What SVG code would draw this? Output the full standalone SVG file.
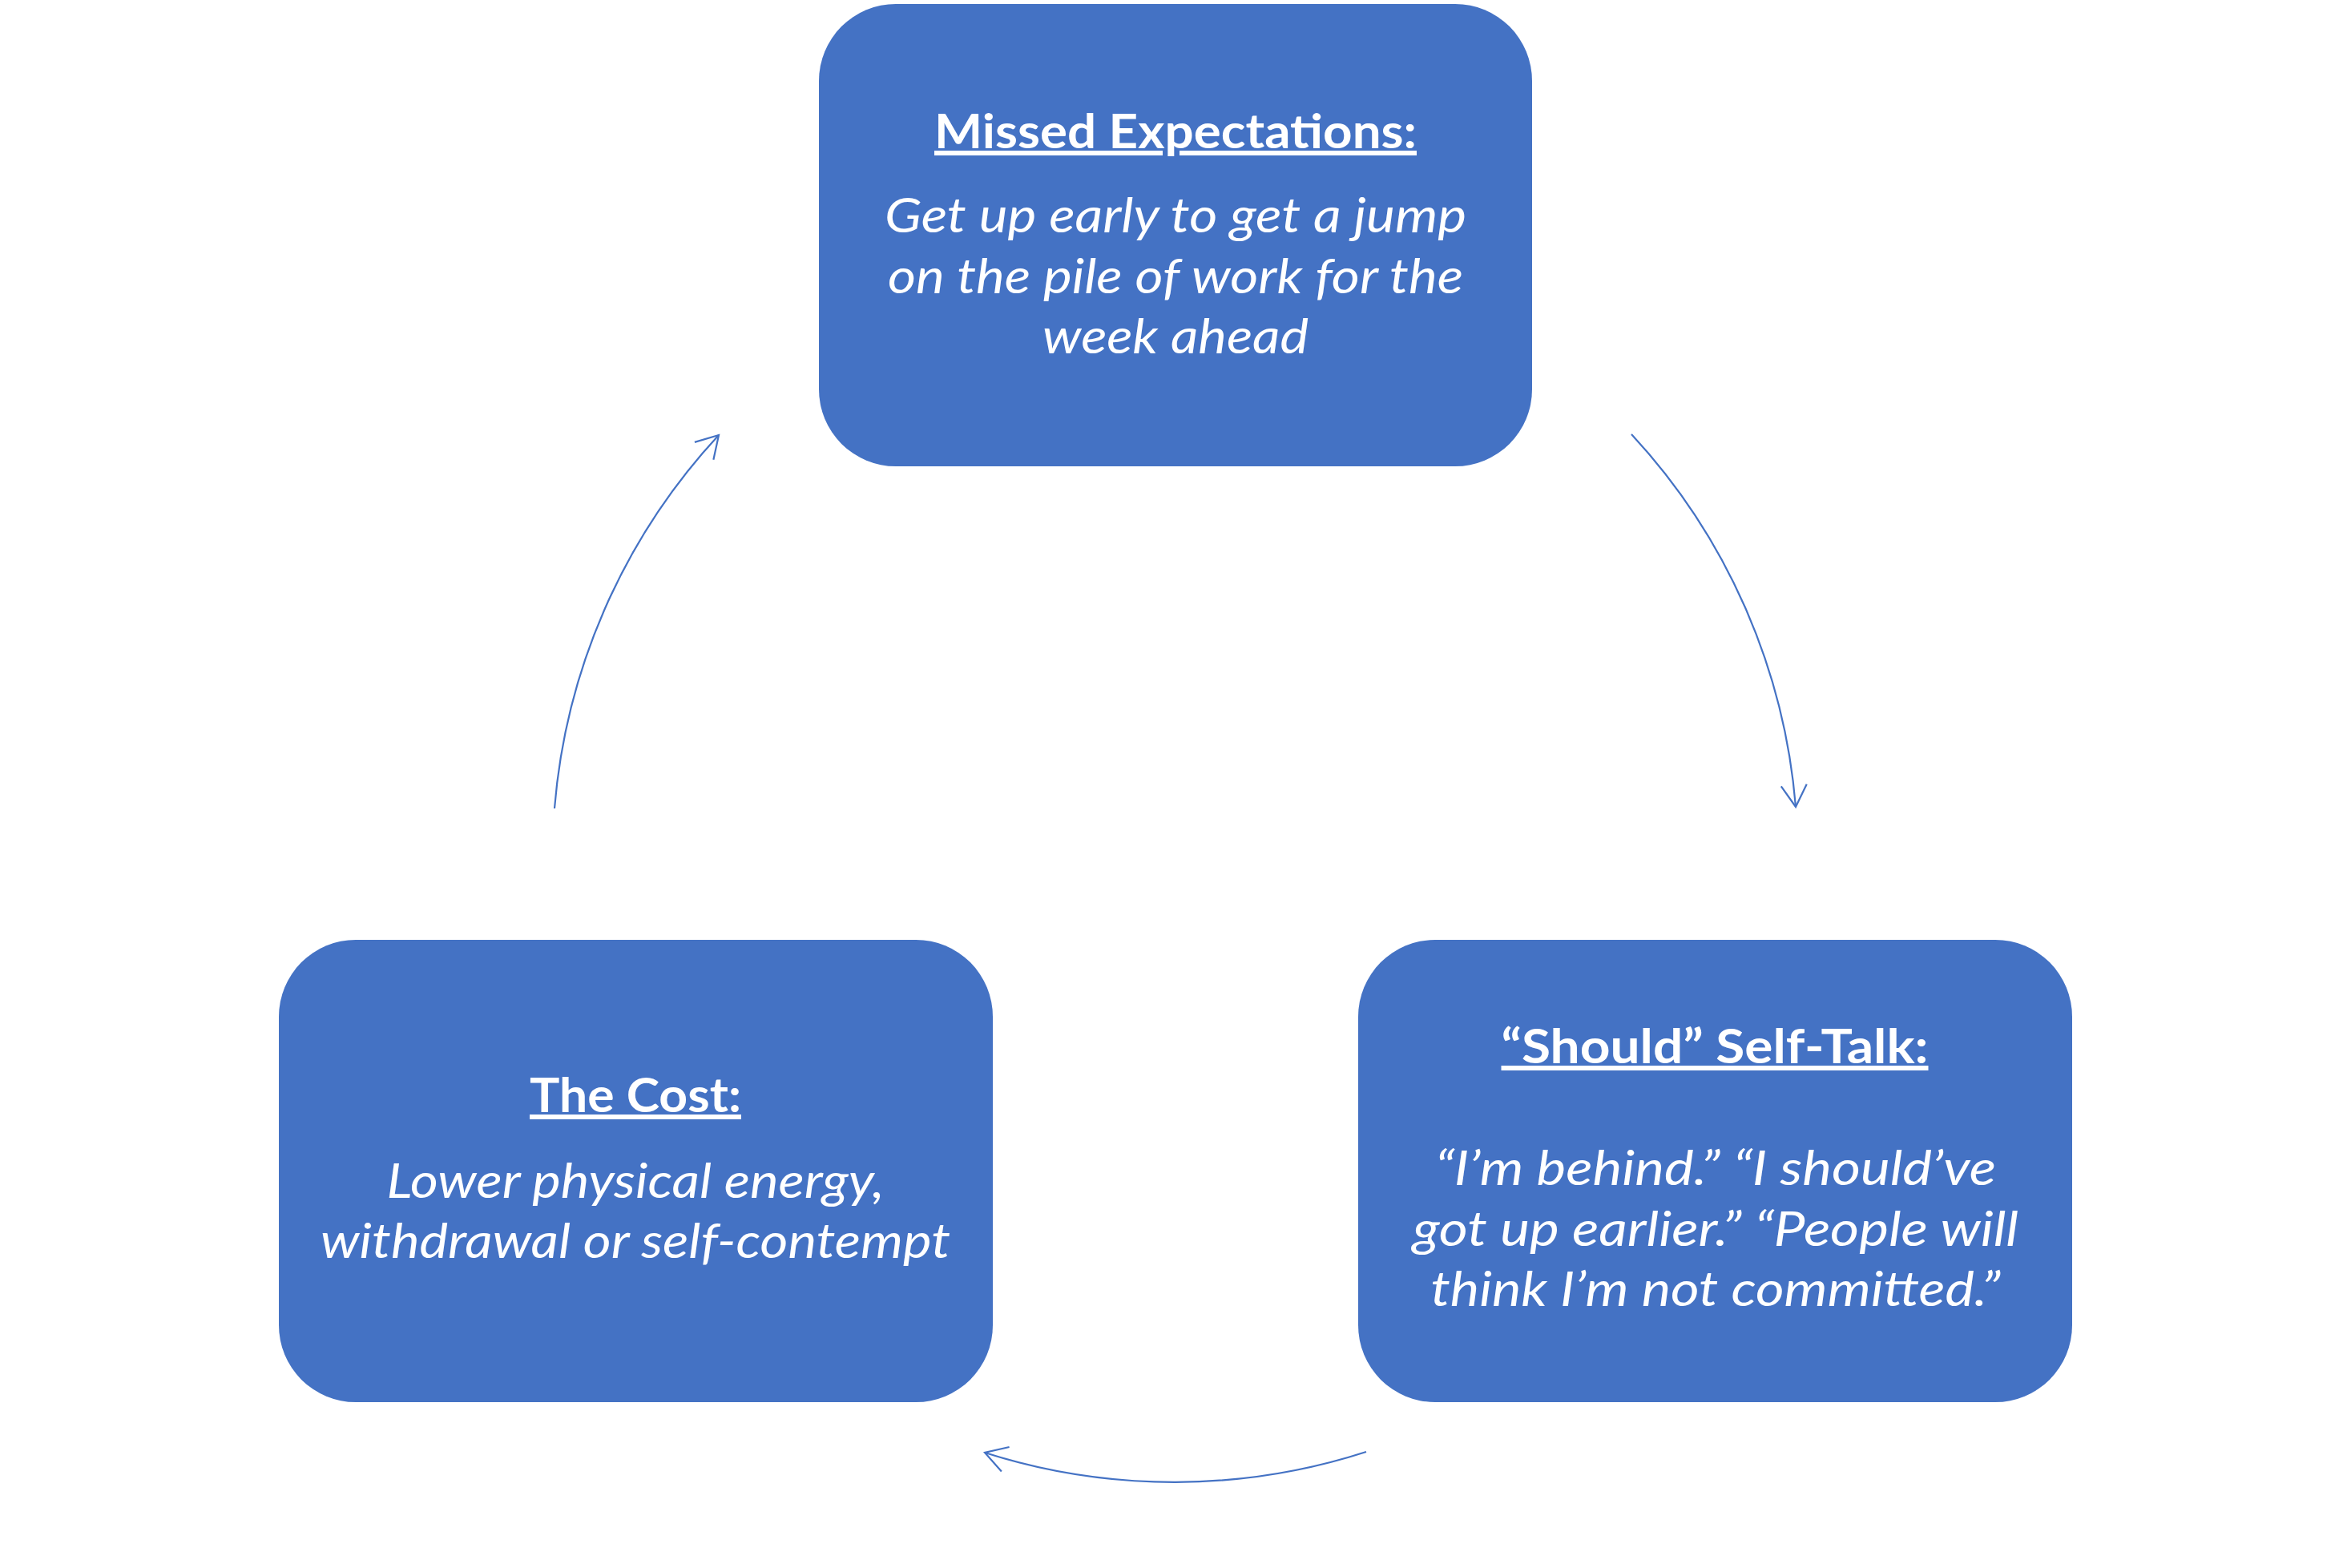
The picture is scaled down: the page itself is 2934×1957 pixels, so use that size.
<svg xmlns="http://www.w3.org/2000/svg" width="2934" height="1957" viewBox="0 0 2934 1957">
<style>
.node{fill:#4472C4;}
.title{font-family:Lato,"Open Sans","Liberation Sans",sans-serif;font-weight:bold;font-size:60px;fill:#FFFFFF;text-decoration:underline;}
.body{font-family:Lato,"Open Sans","Liberation Sans",sans-serif;font-style:italic;font-size:60px;fill:#FFFFFF;}
.conn{fill:none;stroke:#4472C4;stroke-width:2.2;}
</style>
<defs>
<marker id="arrow" markerUnits="userSpaceOnUse" markerWidth="60" markerHeight="60" refX="0" refY="0" orient="auto" overflow="visible">
<path d="M -27 -16 L 0 0 L -27 16" fill="none" stroke="#4472C4" stroke-width="2.2"/>
</marker>
</defs>
<rect width="2934" height="1957" fill="#FFFFFF"/>
<g id="connectors">
<path class="conn" d="M 2036 542 A 778 778 0 0 1 2241 1007" marker-end="url(#arrow)"/>
<path class="conn" d="M 1705 1812 A 778 778 0 0 1 1229 1813" marker-end="url(#arrow)"/>
<path class="conn" d="M 692 1009 A 778 778 0 0 1 897 543" marker-end="url(#arrow)"/>
</g>
<g id="node-missed-expectations">
<rect class="node" x="1022" y="5" width="890" height="577" rx="96" ry="96"/>
<text class="title" x="1467" y="185" text-anchor="middle" textLength="602" lengthAdjust="spacingAndGlyphs">Missed Expectations:</text>
<text class="body" x="1467" y="290" text-anchor="middle" textLength="726" lengthAdjust="spacingAndGlyphs">Get up early to get a jump</text>
<text class="body" x="1467" y="366" text-anchor="middle" textLength="718" lengthAdjust="spacingAndGlyphs">on the pile of work for the</text>
<text class="body" x="1467" y="441" text-anchor="middle" textLength="332" lengthAdjust="spacingAndGlyphs">week ahead</text>
</g>
<g id="node-should-self-talk">
<rect class="node" x="1695" y="1173" width="891" height="577" rx="96" ry="96"/>
<text class="title" x="2140" y="1327" text-anchor="middle" textLength="533" lengthAdjust="spacingAndGlyphs">“Should” Self-Talk:</text>
<text class="body" x="2141" y="1479" text-anchor="middle" textLength="700" lengthAdjust="spacingAndGlyphs">“I’m behind.” “I should’ve</text>
<text class="body" x="2141" y="1555" text-anchor="middle" textLength="756" lengthAdjust="spacingAndGlyphs">got up earlier.” “People will</text>
<text class="body" x="2141" y="1630" text-anchor="middle" textLength="711" lengthAdjust="spacingAndGlyphs">think I’m not committed.”</text>
</g>
<g id="node-the-cost">
<rect class="node" x="348" y="1173" width="891" height="577" rx="96" ry="96"/>
<text class="title" x="793" y="1388" text-anchor="middle" textLength="264" lengthAdjust="spacingAndGlyphs">The Cost:</text>
<text class="body" x="793" y="1495" text-anchor="middle" textLength="621" lengthAdjust="spacingAndGlyphs">Lower physical energy,</text>
<text class="body" x="793" y="1570" text-anchor="middle" textLength="786" lengthAdjust="spacingAndGlyphs">withdrawal or self-contempt</text>
</g>
</svg>
